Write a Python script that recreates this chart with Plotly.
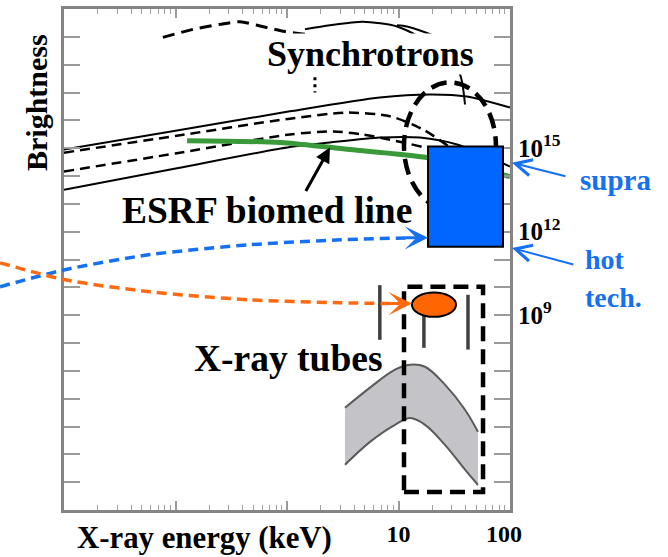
import math
import plotly.graph_objects as go

# ---------------- data (energy keV, brightness) ----------------
sync_top_dash_E = [0.077, 0.144, 0.25, 0.38, 0.6, 0.96, 1.45]
sync_top_dash_B = [9.6e18, 1.86e19, 2.8e19, 3.5e19, 2.35e19, 1.55e19, 1.23e19]
sync_top_dot_E = [1.78, 1.78]
sync_top_dot_B = [3.5e17, 1.0e17]
sync_top_solid_E = [1.45, 2.43, 4.8, 9.7, 15.6, 26.1, 35.6, 39.5]
sync_top_solid_B = [1.86e19, 2.6e19, 3.5e19, 2.35e19, 9.6e18, 2.3e18, 4.5e17, 3.7e16]
sync_top_solid2_E = [9.7, 11.9, 22.1, 35.6]
sync_top_solid2_B = [2.6e19, 2.35e19, 1.0e19, 4.2e18]

band_solid_hi_E = [0.01, 0.103, 1.06, 6.8, 19.2, 41.1, 100]
band_solid_hi_B = [8.9e14, 4.3e15, 2.1e16, 6.6e16, 8.5e16, 7.2e16, 2.9e16]
band_dash_hi_E = [0.01, 0.103, 1.06, 3.45, 8.4, 16.6, 29, 48.5]
band_dash_hi_B = [6.9e14, 2.8e15, 1.15e16, 1.9e16, 1.4e16, 4.7e15, 1.05e15, 1.7e14]
band_dash_lo_E = [0.01, 0.103, 1.06, 2.6, 4.8, 8.4, 22.1, 43.8]
band_dash_lo_B = [1.45e14, 6.6e14, 3.1e15, 4.0e15, 3.1e15, 2.0e15, 7.6e14, 1.1e14]
band_solid_lo_E = [0.01, 0.103, 1.06, 2.43, 6.8, 15.6, 33.5, 100]
band_solid_lo_B = [3.2e13, 1.9e14, 1.1e15, 1.6e15, 2.4e15, 2.4e15, 1.35e15, 2.2e14]

esrf_E = [0.127, 0.865, 3.67, 18, 100]
esrf_B = [1.85e15, 1.6e15, 8.9e14, 4.6e14, 9.5e13]

tube_E = [3.31, 5.55, 9.3, 12.7, 17.3, 26.1, 39.5, 51.6]
tube_hi_B = [4.7e5, 2.5e6, 1.1e7, 1.66e7, 1.4e7, 3.2e6, 4.0e5, 6.5e4]
tube_lo_B = [4.2e3, 2.8e4, 1.15e5, 2.0e5, 1.15e5, 2.2e4, 2.8e3, 7.9e2]

tube_lines_E = [6.8, 16.9, 42]
tube_lines_top = [1.2e10, 1.55e9, 5.4e9]
tube_lines_bot = [1.3e8, 6.7e7, 5.8e7]

supra_hot_E = [18.4, 86.5]
supra_hot_B = [2.9e11, 1.15e15]
sync_zone_E = [11.2, 74.8]
sync_zone_B = [6.2e12, 2.3e17]
tube_zone_E = [11.2, 57.3]
tube_zone_B = [4.4e2, 1.05e10]
lab_tube_E = [13.2, 32.8]
lab_tube_B = [8.7e8, 6.5e9]

hot_curve_E = [0.00267, 0.0102, 0.059, 0.466, 2.98, 12.7]
hot_curve_B = [1.05e10, 4.3e10, 1.5e11, 3.4e11, 5.1e11, 6.0e11]
lab_curve_E = [0.00267, 0.0102, 0.059, 0.466, 2.98, 10.3]
lab_curve_B = [7.6e10, 1.86e10, 6.9e9, 3.55e9, 2.8e9, 2.6e9]

esrf_arrow_E, esrf_arrow_B = 2.43, 1.05e15
side_arrow_E = 104
supra_level_B = 3.0e14
hot_level_B = 2.6e11

x_major = [0.01, 0.1, 1, 10, 100]
x_major_text = ["", "", "", "10", "100&nbsp;&nbsp;"]
x_minor = [d * m for d in [0.01, 0.1, 1, 10] for m in range(2, 10)]
y_major = [10.0 ** k for k in range(3, 20)]
y_major_text = ["10<sup>%d</sup>" % k if k in (9, 12, 15) else "" for k in range(3, 20)]

# ---------------- geometry / styles ----------------
W, H = 668, 557
FX0, FX1, FY0, FY1 = 64, 510, 9, 510
XR = [-2, 2]
YR = [2, 20]
pxd = (FX1 - FX0) / (XR[1] - XR[0])
pyd = (FY1 - FY0) / (YR[1] - YR[0])
X2R = [XR[0] - FX0 / pxd, XR[1] + (W - FX1) / pxd]
Y2R = [YR[0] - (H - FY1) / pyd, YR[1] + FY0 / pyd]

SERIF = "Liberation Serif"
BLUE = "#1670f2"
ORANGE = "#ff6a10"

fig = go.Figure()


def line(E, B, dash="solid", color="black", width=2, xa="x", ya="y", smooth=0.7):
    fig.add_trace(go.Scatter(
        x=E, y=B, mode="lines", xaxis=xa, yaxis=ya, hoverinfo="skip", showlegend=False,
        line=dict(color=color, width=width, dash=dash, shape="spline", smoothing=smooth)))


# synchrotron curves
line(sync_top_dash_E, sync_top_dash_B, dash="12px,7px", width=3)
line(sync_top_dot_E, sync_top_dot_B, dash="3px,4px", width=3)
line(sync_top_solid_E, sync_top_solid_B, width=2)
line(sync_top_solid2_E, sync_top_solid2_B, width=2)
line(band_solid_hi_E, band_solid_hi_B, width=2)
line(band_dash_hi_E, band_dash_hi_B, dash="10px,6px", width=2.5)
line(band_dash_lo_E, band_dash_lo_B, dash="10px,6px", width=2.5)
line(band_solid_lo_E, band_solid_lo_B, width=2)
line(esrf_E, esrf_B, color="#3a9a3a", width=5)

# x-ray tube band
fig.add_trace(go.Scatter(x=tube_E, y=tube_lo_B, mode="lines", hoverinfo="skip", showlegend=False,
                         line=dict(color="#5a5a5a", width=2, shape="spline")))
fig.add_trace(go.Scatter(x=tube_E, y=tube_hi_B, mode="lines", hoverinfo="skip", showlegend=False,
                         fill="tonexty", fillcolor="#c4c4c8",
                         line=dict(color="#5a5a5a", width=2, shape="spline")))
lx, ly = [], []
for e, t, b in zip(tube_lines_E, tube_lines_top, tube_lines_bot):
    lx += [e, e, None]
    ly += [t, b, None]
fig.add_trace(go.Scatter(x=lx, y=ly, mode="lines", hoverinfo="skip", showlegend=False,
                         line=dict(color="#404040", width=3.5)))

# long dashed arrows (overlay axes covering the whole canvas)
line(hot_curve_E, hot_curve_B, dash="10px,6px", color=BLUE, width=3.5, xa="x2", ya="y2")
line(lab_curve_E, lab_curve_B, dash="10px,6px", color=ORANGE, width=3.5, xa="x2", ya="y2")

# shapes
fig.add_shape(type="circle", xref="x", yref="y",
              x0=sync_zone_E[0], x1=sync_zone_E[1], y0=sync_zone_B[0], y1=sync_zone_B[1],
              line=dict(color="black", width=4.5, dash="16px,8px"))
fig.add_shape(type="rect", xref="x", yref="y",
              x0=supra_hot_E[0], x1=supra_hot_E[1], y0=supra_hot_B[0], y1=supra_hot_B[1],
              fillcolor="#0066ff", line=dict(color="black", width=2))
fig.add_shape(type="rect", xref="x", yref="y",
              x0=tube_zone_E[0], x1=tube_zone_E[1], y0=tube_zone_B[0], y1=tube_zone_B[1],
              line=dict(color="black", width=4.5, dash="15px,8px"))
fig.add_shape(type="circle", xref="x", yref="y",
              x0=lab_tube_E[0], x1=lab_tube_E[1], y0=lab_tube_B[0], y1=lab_tube_B[1],
              fillcolor="#ff6600", line=dict(color="black", width=2))


def P(px, py):
    return px / W, 1 - py / H


def text(s, px, py, size, color="black", xanchor="center", **kw):
    x, y = P(px, py)
    fig.add_annotation(x=x, y=y, xref="paper", yref="paper", text=s, showarrow=False,
                       xanchor=xanchor, yanchor="middle",
                       font=dict(family=SERIF, size=size, color=color, weight="bold"), **kw)


def arrow(E, B, ax, ay, color, head, size, width):
    fig.add_annotation(x=math.log10(E), y=math.log10(B), xref="x2", yref="y2", text="",
                       showarrow=True, ax=ax, ay=ay, arrowhead=head, arrowsize=size,
                       arrowwidth=width, arrowcolor=color)


arrow(supra_hot_E[0], hot_curve_B[-1], -24, 0, BLUE, 3, 1.3, 3)
arrow(lab_tube_E[0], lab_curve_B[-1], -24, 0, ORANGE, 3, 1.3, 3)
arrow(esrf_arrow_E, esrf_arrow_B, -25, 45, "black", 2, 1.0, 3)
arrow(side_arrow_E, supra_level_B, 55, 14, BLUE, 5, 1.6, 2)
arrow(side_arrow_E, hot_level_B, 63, 17, BLUE, 5, 1.6, 2)

text("Synchrotrons", 370, 54, 36, bgcolor="white", borderpad=0)
text("ESRF biomed line", 267, 210, 37.5)
text("X-ray tubes", 288, 358, 37.5)
text("X-ray energy (keV)", 204, 538, 30.8)
text("Brightness", 37, 103, 30, textangle=-90)
text("supra", 578, 180, 29, color=BLUE, xanchor="left")
text("hot", 583, 259, 28, color=BLUE, xanchor="left")
text("tech.", 583, 297, 28, color=BLUE, xanchor="left")

axis_common = dict(type="log", showline=True, linecolor="#858585", linewidth=3, mirror="ticks",
                   ticks="inside", showgrid=False, zeroline=False, tickcolor="#9a9a9a",
                   automargin=False,
                   tickfont=dict(family=SERIF, size=24, color="black", weight="bold"))

fig.update_layout(
    width=W, height=H, autosize=False,
    margin=dict(l=0, r=0, t=0, b=0, pad=0, autoexpand=False),
    paper_bgcolor="white", plot_bgcolor="rgba(0,0,0,0)",
    showlegend=False,
    xaxis=dict(axis_common, range=XR, domain=[FX0 / W, FX1 / W], anchor="y",
               tickmode="array", tickvals=x_major, ticktext=x_major_text, ticklen=9, tickwidth=1.5,
               minor=dict(tickmode="array", tickvals=x_minor, ticks="inside", ticklen=5,
                          tickcolor="#a0a0a0", tickwidth=1, showgrid=False)),
    yaxis=dict(axis_common, range=YR, domain=[1 - FY1 / H, 1 - FY0 / H], anchor="x", side="right",
               tickmode="array", tickvals=y_major, ticktext=y_major_text, ticklen=16, tickwidth=2,
               tickfont=dict(family=SERIF, size=25, color="black", weight="bold")),
    xaxis2=dict(type="log", range=X2R, domain=[0, 1], anchor="y2", visible=False, automargin=False),
    yaxis2=dict(type="log", range=Y2R, domain=[0, 1], anchor="x2", visible=False, automargin=False),
)

fig.write_html("out.html", config={"displayModeBar": False},
               post_script="document.body.style.margin='0px';")
